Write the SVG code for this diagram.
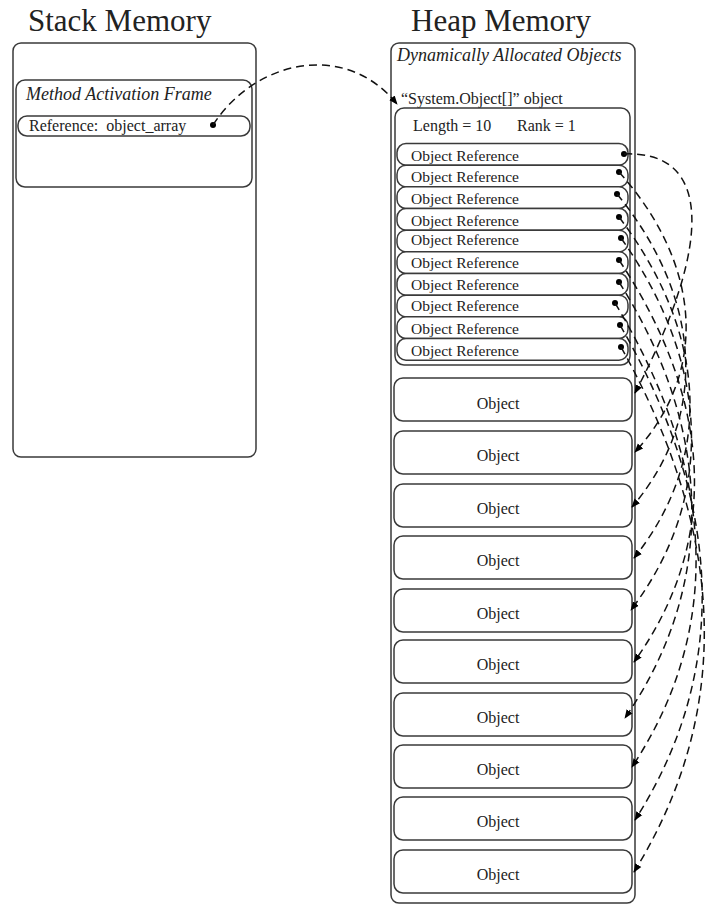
<svg xmlns="http://www.w3.org/2000/svg" width="708" height="907" viewBox="0 0 708 907">
<defs>
<style>
.box{fill:#fff;stroke:#3a3a3a;stroke-width:1.5}
.t{font-family:"Liberation Serif","Times New Roman",serif;fill:#222}
.title{font-size:31px}
.it{font-style:italic;font-size:18px}
.n{font-size:16px}
.r{font-size:15.5px}
.con{fill:none;stroke:#111;stroke-width:1.5;stroke-dasharray:8 5}
.dot{fill:#000}
</style>
<marker id="arr" viewBox="0 0 10 10" refX="9" refY="5" markerWidth="9" markerHeight="9" markerUnits="userSpaceOnUse" orient="auto">
<path d="M0,1 L10,5 L0,9 z" fill="#000"/>
</marker>
</defs>
<rect width="708" height="907" fill="#fff"/>

<g id="stack">
<text class="t title" x="28" y="31">Stack Memory</text>
<rect class="box" x="13" y="43" width="243" height="414" rx="8"/>
</g>
<g id="frame">
<rect class="box" x="16" y="80" width="236" height="107" rx="9"/>
<text class="t it" x="26" y="100">Method Activation Frame</text>
</g>
<g id="stack-ref">
<rect class="box" x="18" y="116" width="232" height="20" rx="9"/>
<text class="t n" x="29" y="131" xml:space="preserve">Reference:  object_array</text>
<circle class="dot" cx="213" cy="125" r="3"/>
</g>

<g id="heap">
<text class="t title" x="411" y="31">Heap Memory</text>
<rect class="box" x="391" y="43" width="244" height="860" rx="8"/>
<text class="t it" x="397" y="61">Dynamically Allocated Objects</text>
<text class="t n" x="401" y="104">“System.Object[]” object</text>
</g>
<g id="array">
<rect class="box" x="395" y="108" width="235" height="257" rx="9"/>
<text class="t n" x="413" y="131">Length = 10</text>
<text class="t n" x="517" y="131">Rank = 1</text>
</g>
<g id="ref1"><rect class="box" x="397" y="143.5" width="231" height="21.7" rx="9"/><text class="t r" x="411" y="160.5">Object Reference</text><circle class="dot" cx="624" cy="154" r="3"/></g>
<g id="ref2"><rect class="box" x="397" y="165.2" width="231" height="21.7" rx="9"/><text class="t r" x="411" y="182.2">Object Reference</text><circle class="dot" cx="619" cy="172" r="3"/></g>
<g id="ref3"><rect class="box" x="397" y="186.8" width="231" height="21.7" rx="9"/><text class="t r" x="411" y="203.8">Object Reference</text><circle class="dot" cx="617" cy="194" r="3"/></g>
<g id="ref4"><rect class="box" x="397" y="208.5" width="231" height="21.7" rx="9"/><text class="t r" x="411" y="225.5">Object Reference</text><circle class="dot" cx="619" cy="217" r="3"/></g>
<g id="ref5"><rect class="box" x="397" y="230.2" width="231" height="21.7" rx="9"/><text class="t r" x="411" y="245.2">Object Reference</text><circle class="dot" cx="621" cy="238" r="3"/></g>
<g id="ref6"><rect class="box" x="397" y="251.8" width="231" height="21.7" rx="9"/><text class="t r" x="411" y="267.8">Object Reference</text><circle class="dot" cx="619" cy="260" r="3"/></g>
<g id="ref7"><rect class="box" x="397" y="273.5" width="231" height="21.7" rx="9"/><text class="t r" x="411" y="289.5">Object Reference</text><circle class="dot" cx="619" cy="282" r="3"/></g>
<g id="ref8"><rect class="box" x="397" y="295.2" width="231" height="21.7" rx="9"/><text class="t r" x="411" y="311.2">Object Reference</text><circle class="dot" cx="615" cy="303" r="3"/></g>
<g id="ref9"><rect class="box" x="397" y="316.8" width="231" height="21.7" rx="9"/><text class="t r" x="411" y="333.8">Object Reference</text><circle class="dot" cx="620" cy="325" r="3"/></g>
<g id="ref10"><rect class="box" x="397" y="338.5" width="231" height="21.7" rx="9"/><text class="t r" x="411" y="355.5">Object Reference</text><circle class="dot" cx="621" cy="347" r="3"/></g>

<g id="obj1"><rect class="box" x="394" y="378" width="238" height="43" rx="9"/><text class="t n" x="498" y="409" text-anchor="middle">Object</text></g>
<g id="obj2"><rect class="box" x="394" y="431" width="238" height="43" rx="9"/><text class="t n" x="498" y="461" text-anchor="middle">Object</text></g>
<g id="obj3"><rect class="box" x="394" y="484" width="238" height="43" rx="9"/><text class="t n" x="498" y="514" text-anchor="middle">Object</text></g>
<g id="obj4"><rect class="box" x="394" y="536" width="238" height="43" rx="9"/><text class="t n" x="498" y="566" text-anchor="middle">Object</text></g>
<g id="obj5"><rect class="box" x="394" y="589" width="238" height="43" rx="9"/><text class="t n" x="498" y="619" text-anchor="middle">Object</text></g>
<g id="obj6"><rect class="box" x="394" y="640" width="238" height="43" rx="9"/><text class="t n" x="498" y="670" text-anchor="middle">Object</text></g>
<g id="obj7"><rect class="box" x="394" y="693" width="238" height="43" rx="9"/><text class="t n" x="498" y="723" text-anchor="middle">Object</text></g>
<g id="obj8"><rect class="box" x="394" y="745" width="238" height="43" rx="9"/><text class="t n" x="498" y="775" text-anchor="middle">Object</text></g>
<g id="obj9"><rect class="box" x="394" y="797" width="238" height="43" rx="9"/><text class="t n" x="498" y="827" text-anchor="middle">Object</text></g>
<g id="obj10"><rect class="box" x="394" y="850" width="238" height="43" rx="9"/><text class="t n" x="498" y="880" text-anchor="middle">Object</text></g>

<g id="connectors">
<path class="con" marker-end="url(#arr)" d="M213,125 C255,60 345,40 397,104"/>
<path class="con" marker-end="url(#arr)" d="M624,154 C710,150 715,240 635,393"/>
<path class="con" marker-end="url(#arr)" d="M619,172 C697,259 713,367 635,452"/>
<path class="con" marker-end="url(#arr)" d="M617,194 C698,293 713,412 632,507"/>
<path class="con" marker-end="url(#arr)" d="M619,217 C703,328 718,453 634,558"/>
<path class="con" marker-end="url(#arr)" d="M621,238 C708,361 718,495 631,610"/>
<path class="con" marker-end="url(#arr)" d="M619,260 C709,395 724,537 634,662"/>
<path class="con" marker-end="url(#arr)" d="M619,282 C712,429 718,583 625,718"/>
<path class="con" marker-end="url(#arr)" d="M615,303 C711,462 728,622 632,767"/>
<path class="con" marker-end="url(#arr)" d="M620,325 C719,496 734,665 635,820"/>
<path class="con" marker-end="url(#arr)" d="M621,347 C723,530 736,707 634,872"/>
</g>
</svg>
